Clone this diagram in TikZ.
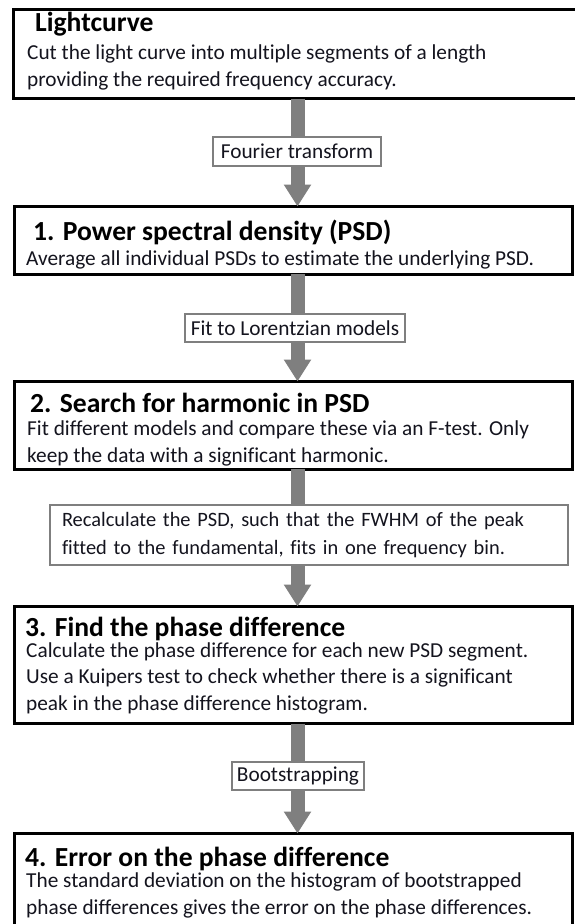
\documentclass[tikz,border=0pt]{standalone}
\usepackage{fontspec}
\setmainfont{Carlito}[Ligatures=NoCommon]
\usetikzlibrary{arrows.meta}
\definecolor{flowgray}{RGB}{127,127,127}
\definecolor{inkdark}{RGB}{20,20,30}
\tikzset{
  stagebox/.style={draw=black, line width=3pt, fill=white, inner sep=0pt,
    outer sep=0pt, anchor=north west},
  % multi-line text nodes: the base anchor sits on the last line
  stagetitle/.style={anchor=base west, inner sep=0pt, text=black,
    font=\fontsize{27.6}{32}\selectfont\bfseries},
  stagebody/.style={anchor=base west, inner sep=0pt, align=left, text=inkdark,
    font=\fontsize{21.3}{26.5}\selectfont},
  steplabel/.style={draw=flowgray, line width=2.5pt, fill=white, inner sep=0pt,
    text=inkdark, font=\fontsize{21.3}{27.5}\selectfont},
  flowarrow/.style={draw=flowgray, line width=14pt,
    -{Triangle[width=26pt,length=22pt]}}
}
\begin{document}
\begin{tikzpicture}[x=1pt,y=-1pt]
  \useasboundingbox (0,0) rectangle (575,924);
  \clip (0,0) rectangle (575,924);
  \fill[white] (0,0) rectangle (575,924);
  \coordinate (ax) at (297.5,0);

  % stage boxes
  \node[stagebox, minimum width=572pt, minimum height=89pt]    (b0) at (13,9.5) {};
  \node[stagebox, minimum width=557.5pt, minimum height=67.5pt] (b1) at (14.5,206.5) {};
  \node[stagebox, minimum width=557.5pt, minimum height=87.5pt] (b2) at (14.5,381.5) {};
  \node[stagebox, minimum width=557.5pt, minimum height=117pt]  (b3) at (14.5,606.5) {};
  \node[stagebox, minimum width=557.5pt, minimum height=120pt]  (b4) at (14.5,833.5) {};

  % connectors between the stages
  \draw[flowarrow] (b0.south -| ax) -- (b1.north -| ax);
  \draw[flowarrow] (b1.south -| ax) -- (b2.north -| ax);
  \draw[flowarrow] (b2.south -| ax) -- (b3.north -| ax);
  \draw[flowarrow] (b3.south -| ax) -- (b4.north -| ax);

  % labels on the connectors
  \node[steplabel, minimum width=168pt, minimum height=29pt] (l1) at (297,151.5) {Fourier transform};
  \node[steplabel, minimum width=220pt, minimum height=28pt] (l2) at (295,328) {Fit to Lorentzian models};
  \node[steplabel, minimum width=518pt, minimum height=60pt, align=left, text width=494pt,
        font=\fontsize{20.4}{27.5}\selectfont] (l3) at (309,535)
    {Recalculate the PSD, such that the FWHM of the peak\\fitted to the fundamental, fits in one frequency bin.};
  \node[steplabel, minimum width=132pt, minimum height=28pt] (l4) at (298,776) {Bootstrapping};

  % texts of the stages
  \node[stagetitle] (t0) at (35,31) {Lightcurve};
  \node[stagebody]  (d0) at (27,86) {Cut the light curve into multiple segments of a length\\providing the required frequency accuracy.};

  \node[stagetitle] (t1) at (33,240) {1. Power spectral density (PSD)};
  \node[stagebody]  (d1) at (26,265) {Average all individual PSDs to estimate the underlying PSD.};

  \node[stagetitle] (t2) at (30,412) {2. Search for harmonic in PSD};
  \node[stagebody]  (d2) at (27,462) {Fit different models and compare these via an F-test. Only\\keep the data with a significant harmonic.};

  \node[stagetitle] (t3) at (25,636) {3. Find the phase difference};
  \node[stagebody]  (d3) at (26,710) {Calculate the phase difference for each new PSD segment.\\Use a Kuipers test to check whether there is a significant\\peak in the phase difference histogram.};

  \node[stagetitle] (t4) at (25,866) {4. Error on the phase difference};
  \node[stagebody]  (d4) at (26,914) {The standard deviation on the histogram of bootstrapped\\phase differences gives the error on the phase differences.};
\end{tikzpicture}
\end{document}
